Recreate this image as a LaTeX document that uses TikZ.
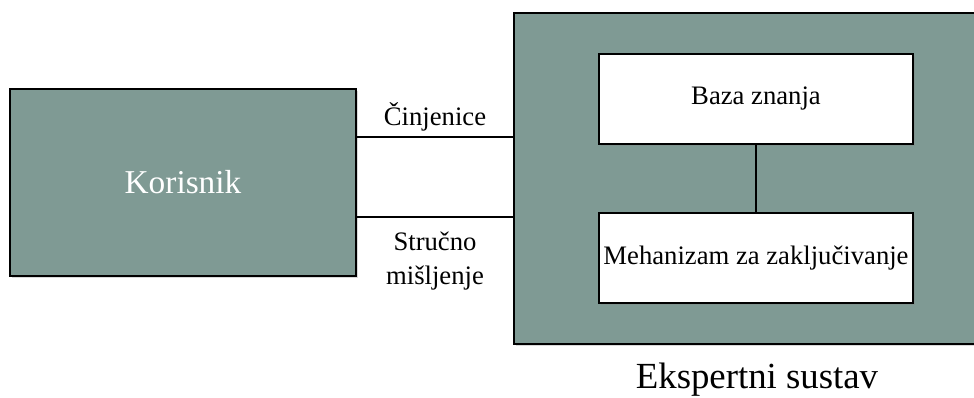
\documentclass[tikz,border=0pt]{standalone}
\usepackage{fontspec}
\setmainfont{Liberation Serif}
\usetikzlibrary{shadows}
\definecolor{sage}{RGB}{127,154,148}

\begin{document}
\begin{tikzpicture}[
    x=0.75pt, y=-0.75pt,
    block/.style={draw, line width=1.3pt, fill=sage, rectangle,
                  drop shadow={opacity=0.3, shadow xshift=1.5pt, shadow yshift=-1.5pt}},
    part/.style={draw, line width=1.3pt, fill=white, rectangle,
                 minimum width=314*0.75pt, minimum height=90*0.75pt,
                 font=\fontsize{20}{26}\selectfont, inner sep=1pt,
                 drop shadow={opacity=0.3, shadow xshift=1.5pt, shadow yshift=-1.5pt}},
    link/.style={line width=1.3pt},
    label/.style={font=\fontsize{20}{26}\selectfont, align=center}
]
    \clip (0,0) rectangle (974,397);

    % User
    \node[block, minimum width=346*0.75pt, minimum height=187*0.75pt,
          text=white, font=\fontsize{25}{30}\selectfont] (kor) at (183,182.5) {Korisnik};

    % Expert system
    \node[block, minimum width=476*0.75pt, minimum height=331*0.75pt] (sustav) at (752,178.5) {};
    \node[part] (baza) at (756,99) {Baza znanja};
    \node[part] (meh) at (756,258) {Mehanizam za zaključivanje};
    \node[font=\fontsize{27.6}{32}\selectfont] (naziv) at (757,380) {Ekspertni sustav};

    % Links
    \draw[link] (kor.east |- 0,137) -- (sustav.west |- 0,137);
    \draw[link] (kor.east |- 0,217) -- (sustav.west |- 0,217);
    \draw[link] (baza.south) -- (meh.north);

    % Labels
    \node[label] (cinj) at (435,117) {Činjenice};
    \node[label] (misl) at (435,261) {Stručno\\mišljenje};
\end{tikzpicture}
\end{document}
